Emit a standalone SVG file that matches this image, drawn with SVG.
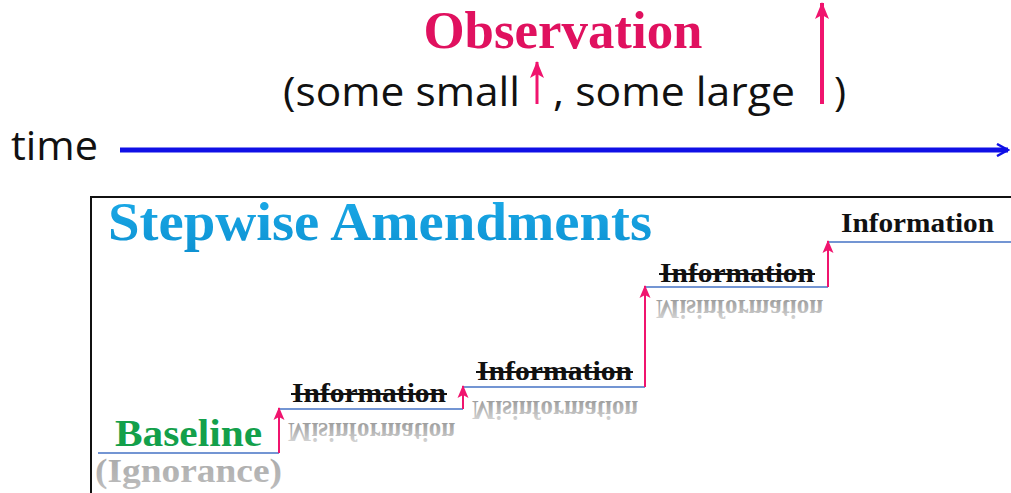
<svg xmlns="http://www.w3.org/2000/svg" width="1011" height="493" viewBox="0 0 1011 493">
<style>
.serif{font-family:"Liberation Serif","Times New Roman",serif;font-weight:bold}
.sans{font-family:"Open Sans","Liberation Sans",sans-serif;font-size:41px;fill:#111}
.info{font-size:27px;fill:#111}
.misinfo{font-size:27px;fill:url(#refl)}
.step{stroke:#4472C4;stroke-width:1.6;fill:none}
.up{stroke:#F0146E;stroke-width:2;fill:none;marker-end:url(#pinkhead)}
.strike{stroke:#111;stroke-width:2}
</style>
<defs>
<linearGradient id="refl" x1="0" y1="0" x2="0" y2="1">
<stop offset="0" stop-color="#e2e2e2"/>
<stop offset="1" stop-color="#8c8c8c"/>
</linearGradient>
<linearGradient id="ign" x1="0" y1="0" x2="0" y2="1">
<stop offset="0" stop-color="#a8a8a8"/>
<stop offset="1" stop-color="#bdbdbd"/>
</linearGradient>
<linearGradient id="cyan" x1="0" y1="0" x2="0" y2="1">
<stop offset="0" stop-color="#1CACEA"/>
<stop offset="1" stop-color="#0E92D2"/>
</linearGradient>
<marker id="pinkhead" markerUnits="userSpaceOnUse" viewBox="0 0 13 12" refX="12" refY="6" markerWidth="13" markerHeight="12" orient="auto">
<path d="M0,0.5 L13,6 L0,11.5 L3,6 z" fill="#F0146E"/>
</marker>
<marker id="pinkbig" markerUnits="userSpaceOnUse" viewBox="0 0 17 15" refX="16" refY="7.5" markerWidth="17" markerHeight="15" orient="auto">
<path d="M0,0.5 L17,7.5 L0,14.5 L4,7.5 z" fill="#F0146E"/>
</marker>
<marker id="bluehead" markerUnits="userSpaceOnUse" viewBox="0 0 14 14" refX="12" refY="7" markerWidth="14" markerHeight="14" orient="auto">
<path d="M1,1 L12,7 L1,13" fill="none" stroke="#1010E6" stroke-width="2.5"/>
</marker>
</defs>
<rect width="1011" height="493" fill="#fff"/>

<g id="header">
<text class="serif" x="563" y="48" font-size="52" fill="#E0115F" text-anchor="middle" textLength="279" lengthAdjust="spacingAndGlyphs">Observation</text>
<text class="sans" x="283" y="106" textLength="237" lengthAdjust="spacingAndGlyphs">(some small</text>
<text class="sans" x="553" y="106" textLength="242" lengthAdjust="spacingAndGlyphs">, some large</text>
<text class="sans" x="834" y="106">)</text>
<line x1="537" y1="104" x2="537" y2="62" stroke="#F0146E" stroke-width="3" marker-end="url(#pinkbig)"/>
<line x1="822" y1="104" x2="822" y2="3" stroke="#F0146E" stroke-width="4" marker-end="url(#pinkbig)"/>
</g>

<g id="timeline">
<text class="sans" x="11" y="160" textLength="87" lengthAdjust="spacingAndGlyphs">time</text>
<line x1="120" y1="150" x2="1008" y2="150" stroke="#1010E6" stroke-width="5" marker-end="url(#bluehead)"/>
</g>

<g id="frame">
<path d="M1011,197 H91 V493" fill="none" stroke="#111" stroke-width="2"/>
<text class="serif" x="108" y="240" font-size="55" fill="url(#cyan)" textLength="544" lengthAdjust="spacingAndGlyphs">Stepwise Amendments</text>
</g>

<g id="connectors">
<path class="step" d="M98,453 H279"/>
<path class="step" d="M279,409 H463"/>
<path class="step" d="M463,387 H645"/>
<path class="step" d="M645,287 H828"/>
<path class="step" d="M828,242 H1011"/>
<line class="up" x1="279" y1="453" x2="279" y2="408"/>
<line class="up" x1="463" y1="409" x2="463" y2="386"/>
<line class="up" x1="645" y1="387" x2="645" y2="286"/>
<line class="up" x1="828" y1="287" x2="828" y2="241"/>
</g>

<g id="baseline">
<text class="serif" x="115" y="446" font-size="37" fill="#13A04B" textLength="147" lengthAdjust="spacingAndGlyphs">Baseline</text>
<text class="serif" x="95" y="482" font-size="34" fill="url(#ign)" textLength="187" lengthAdjust="spacingAndGlyphs">(Ignorance)</text>
</g>

<g id="step2">
<text class="serif info" x="292" y="402" textLength="154" lengthAdjust="spacingAndGlyphs">Information</text>
<line class="strike" x1="291" y1="394" x2="447" y2="394"/>
<text class="serif misinfo" x="288" y="423" transform="matrix(1 0 0 -1 0 846)" textLength="167" lengthAdjust="spacingAndGlyphs">Misinformation</text>
</g>

<g id="step3">
<text class="serif info" x="477" y="380" textLength="155" lengthAdjust="spacingAndGlyphs">Information</text>
<line class="strike" x1="476" y1="372" x2="633" y2="372"/>
<text class="serif misinfo" x="472" y="401" transform="matrix(1 0 0 -1 0 802)" textLength="166" lengthAdjust="spacingAndGlyphs">Misinformation</text>
</g>

<g id="step4">
<text class="serif info" x="660" y="282" textLength="154" lengthAdjust="spacingAndGlyphs">Information</text>
<line class="strike" x1="659" y1="274" x2="815" y2="274"/>
<text class="serif misinfo" x="656" y="300" transform="matrix(1 0 0 -1 0 600)" textLength="167" lengthAdjust="spacingAndGlyphs">Misinformation</text>
</g>

<g id="step5">
<text class="serif info" x="841" y="232" textLength="153" lengthAdjust="spacingAndGlyphs">Information</text>
</g>
</svg>
